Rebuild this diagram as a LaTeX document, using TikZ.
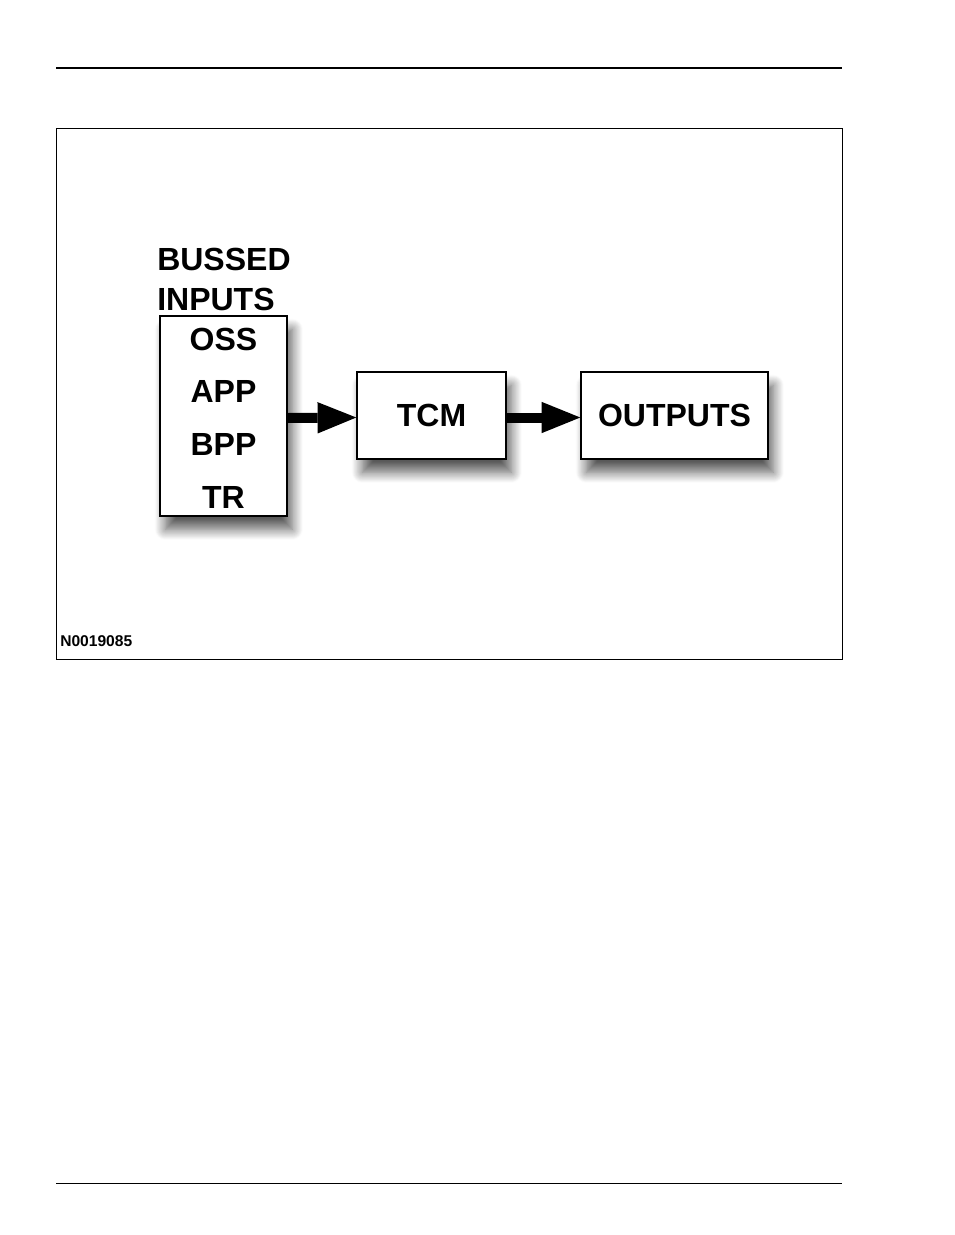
\documentclass[tikz,border=0pt]{standalone}
\usepackage{fontspec}
\setmainfont{Liberation Sans}
\usetikzlibrary{positioning,arrows.meta,shadows.blur}

\begin{document}
\begin{tikzpicture}[x=0.75pt, y=-0.75pt, font=\bfseries\fontsize{24}{28}\selectfont,
  blk/.style={draw, line width=1.1pt, fill=white, inner sep=0pt,
    blur shadow={shadow xshift=4pt, shadow yshift=-10pt, shadow blur radius=8pt, shadow blur steps=12, shadow opacity=65}},
  fat/.style={line width=7.5pt, -{Triangle[length=29pt, width=23.5pt, line width=0pt]}}]
\useasboundingbox (0,0) rectangle (954,1235);
% page rules and frame
\draw[line width=1.5pt] (56,68) -- (842,68);
\draw[line width=0.75pt] (56,1183) -- (842,1183);
\draw[line width=0.75pt] (56,128) rectangle (842,659);
% blocks
\node[blk, minimum width=95.25pt, minimum height=150pt] (inputs) at (223.5,416) {};
\node[blk, minimum width=111.75pt, minimum height=65.25pt] (tcm) at (431.5,415.5) {TCM};
\node[blk, minimum width=140.25pt, minimum height=65.25pt] (outputs) at (674.5,415.5) {OUTPUTS};
\node[anchor=base west, inner sep=0pt] (bussed) at (157,270) {BUSSED};
\node[anchor=base west, inner sep=0pt] (inlabel) at (157,310) {INPUTS};
\foreach \n/\t/\y in {oss/OSS/350, app/APP/402, bpp/BPP/455, tr/TR/508}
  \node[anchor=base, inner sep=0pt] (\n) at (223.5,\y) {\t};
% arrows
\draw[fat] ([yshift=-1.5pt]inputs.east) -- ([yshift=-1.5pt]tcm.west);
\draw[fat] ([yshift=-1.5pt]tcm.east) -- ([yshift=-1.5pt]outputs.west);
\node[anchor=base west, inner sep=0pt, font=\bfseries\fontsize{11.7}{14}\selectfont] (code) at (60,646) {N0019085};
\end{tikzpicture}
\end{document}
